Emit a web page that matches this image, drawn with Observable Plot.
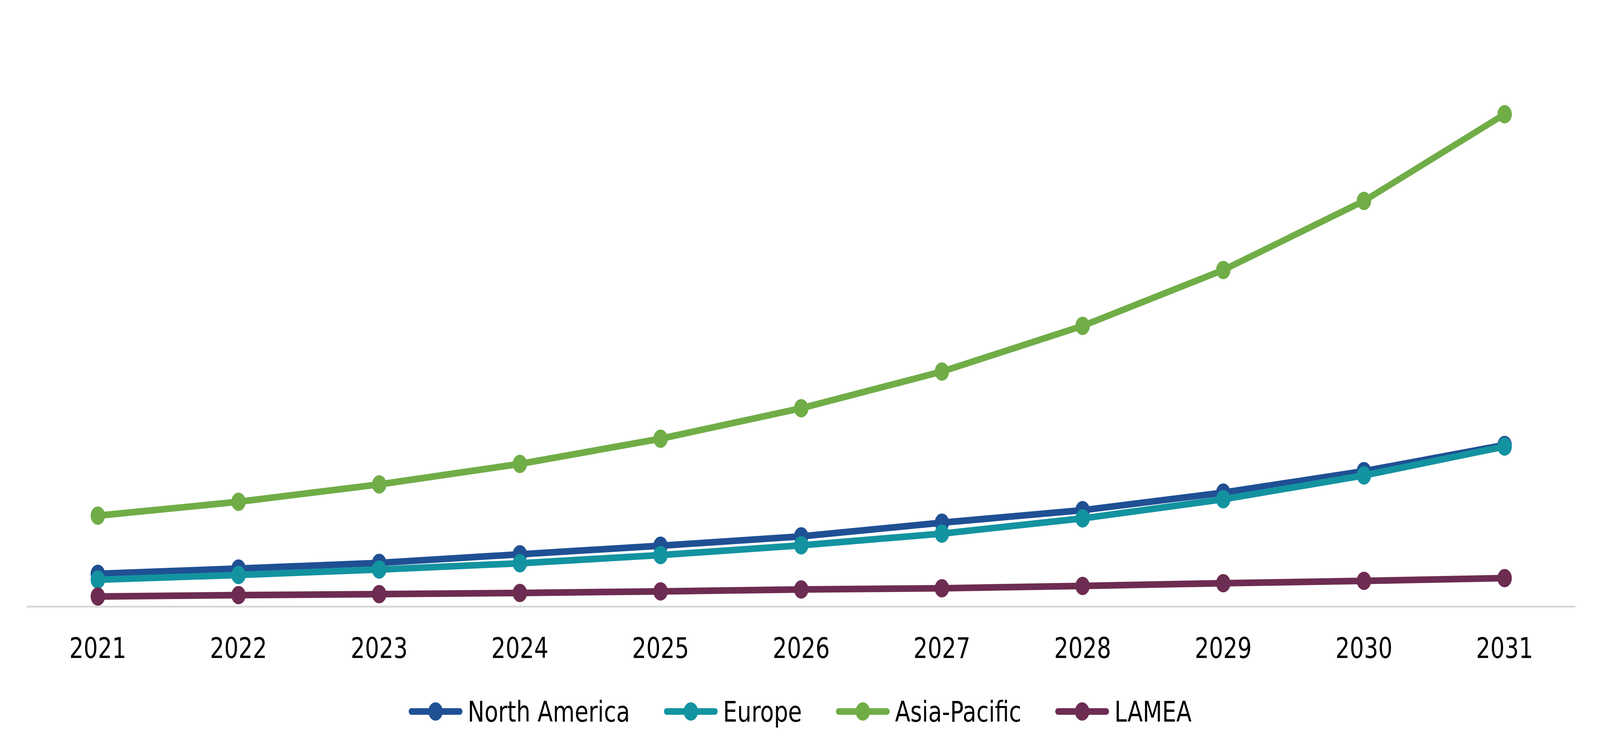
<!DOCTYPE html>
<html>
<head>
<meta charset="utf-8">
<script src="https://cdn.jsdelivr.net/npm/d3@7"></script>
<script src="https://cdn.jsdelivr.net/npm/@observablehq/plot@0.6"></script>
<style>
  html, body { margin: 0; padding: 0; background: #ffffff; overflow: hidden; }
  #page { position: absolute; left: 0; top: 0; width: 5209px; height: 1936px; transform-origin: 0 0; font-family: "DejaVu Sans", Verdana, sans-serif; background: #ffffff; }
  #legend { display: flex; justify-content: center; align-items: center; gap: 110px; margin-top: 52px; height: 100px; }
  .item { display: flex; align-items: center; }
  .item span { font-size: 73px; line-height: 1; color: #000; margin-left: 17px; white-space: nowrap; }
</style>
</head>
<body>
<div id="page">
  <div id="chart"></div>
  <div id="legend"></div>
</div>
<script>
const years = [2021, 2022, 2023, 2024, 2025, 2026, 2027, 2028, 2029, 2030, 2031];
const regions = ["North America", "Europe", "Asia-Pacific", "LAMEA"];
const colors = ["#1F5094", "#1393A0", "#70AD47", "#6D2C51"];
const northAmerica = [8.4, 9.75, 11.2, 13.4, 15.6, 18.0, 21.5, 24.7, 29.2, 34.7, 41.4];
const europe = [6.9, 8.1, 9.5, 11.1, 13.2, 15.7, 18.7, 22.6, 27.5, 33.6, 41.0];
const asiaPacific = [23.3, 26.85, 31.3, 36.55, 43.0, 50.8, 60.2, 71.9, 86.2, 103.9, 126.1];
const lamea = [2.6, 2.95, 3.2, 3.5, 3.9, 4.4, 4.7, 5.3, 6.0, 6.6, 7.3];
const seriesValues = [northAmerica, europe, asiaPacific, lamea];

const series = regions.map((name, i) => ({
  name,
  color: colors[i],
  data: years.map((year, j) => ({ year, value: seriesValues[i][j], region: name }))
}));

const marks = [Plot.ruleY([0], { stroke: "#d9d9d9", strokeWidth: 5 })];
for (const s of series) {
  marks.push(Plot.line(s.data, { x: "year", y: "value", stroke: s.color, strokeWidth: 17, strokeLinejoin: "round", strokeLinecap: "round" }));
  marks.push(Plot.dot(s.data, { x: "year", y: "value", r: 23.5, fill: s.color, stroke: "none" }));
}
marks.push(Plot.axisX({ tickSize: 0, tickPadding: 80, fontSize: 73, fill: "#000", tickFormat: d => String(d), label: null }));

const chart = Plot.plot({
  width: 5209,
  height: 1720,
  marginLeft: 86,
  marginRight: 80,
  marginTop: 0,
  marginBottom: 167,
  style: { fontFamily: "DejaVu Sans", background: "#ffffff", overflow: "visible" },
  x: { type: "point", domain: years, padding: 0.5, label: null },
  y: { domain: [0, 155.3], axis: null },
  marks
});
document.getElementById("chart").appendChild(chart);

const legend = document.getElementById("legend");
for (const s of series) {
  const item = document.createElement("div");
  item.className = "item";
  item.innerHTML = `<svg width="176" height="50" viewBox="0 0 176 50"><line x1="9" y1="25" x2="167" y2="25" stroke="${s.color}" stroke-width="17" stroke-linecap="round"/><circle cx="88" cy="25" r="23.5" fill="${s.color}"/></svg>`;
  const label = document.createElement("span");
  label.textContent = s.name;
  item.appendChild(label);
  legend.appendChild(item);
}

// The design is laid out at the reference's 5209×1936; fit it to the actual window.
function fit() {
  const sx = window.innerWidth / 5209;
  const sy = window.innerHeight / 1936;
  document.getElementById("page").style.transform = `scale(${sx}, ${sy})`;
}
fit();
window.addEventListener("resize", fit);
</script>
</body>
</html>
